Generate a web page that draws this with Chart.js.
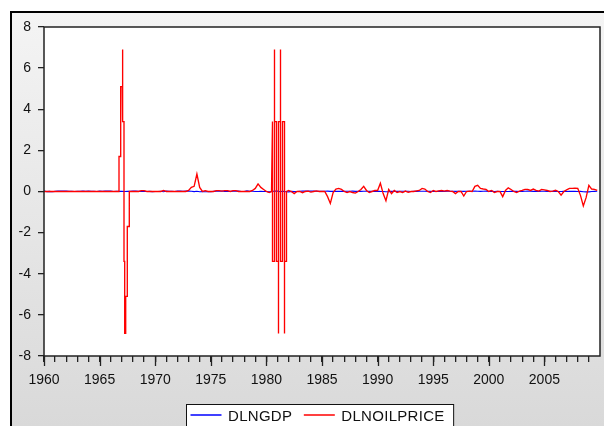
<!DOCTYPE html>
<html>
<head>
<meta charset="utf-8">
<style>
  html, body { margin: 0; padding: 0; background: #fff; }
  canvas { display: block; }
</style>
</head>
<body>
<canvas id="myChart" width="604" height="426"></canvas>
<script src="https://cdn.jsdelivr.net/npm/chart.js@4.4.1/dist/chart.umd.min.js"></script>
<script>
// quarterly observations 1960Q1 - 2009Q4
const quarters = [];
for (let y = 1960; y < 2010; y++) {
    for (let q = 0; q < 4; q++) quarters.push(y + q / 4);
}

// DLNOILPRICE, one row per year (Q1..Q4)
const oilValues = [
    0, 0, 0, 0,            // 1960
    0, 0, 0, 0,
    0, 0, 0, 0,
    0, 0, 0, 0,
    0, 0, 0, 0,
    0, 0, 0, 0,            // 1965
    0, 0, 0, 0,
    0, 0, 0, 0,
    0, 0, 0, 0.04,
    0.04, 0, 0, 0,
    0, 0, 0, 0.05,         // 1970
    0, 0, 0, 0,
    0, 0, 0, 0,
    0.05, 0.2, 0.25, 0.85,
    0.2, 0, 0.04, 0,
    0, 0, 0.04, 0.04,      // 1975
    0.02, 0.04, 0.04, 0,
    0.04, 0.04, 0, 0,
    0, 0, 0, 0.05,
    0.15, 0.37, 0.2, 0.1,
    0, -0.05, 0, 0,        // 1980
    0, 0, 0, 0,
    0.05, 0, -0.1, 0,
    0, -0.06, 0, 0.02,
    -0.03, 0, 0.03, 0,
    0, 0, -0.25, -0.58,    // 1985
    -0.05, 0.12, 0.15, 0.1,
    0, -0.05, 0, -0.05,
    -0.08, 0, 0.1, 0.25,
    0.05, -0.05, 0, 0.05,
    0.05, 0.4, -0.1, -0.45, // 1990
    0.1, -0.1, 0.05, -0.05,
    0, -0.05, 0.02, -0.04,
    0, 0, 0.03, 0.05,
    0.15, 0.12, 0, -0.05,
    0.05, 0, 0.03, 0.05,   // 1995
    0.02, 0.05, 0.02, 0,
    -0.1, 0, 0, -0.22,
    0, 0.02, 0, 0.25,
    0.3, 0.15, 0.12, 0.1,
    0, 0.05, -0.05, 0,     // 2000
    0, -0.25, 0.05, 0.18,
    0.1, 0, -0.05, 0.02,
    0.05, 0.1, 0.1, 0.05,
    0.12, 0.05, 0.02, 0.1,
    0.08, 0.05, 0, 0.02,   // 2005
    0.06, 0, -0.18, 0,
    0.08, 0.15, 0.15, 0.16,
    0.15, -0.2, -0.7, -0.3,
    0.3, 0.12, 0.1, 0.05
];

// the two bursts move in jumps inside a quarter; repeated dates give the vertical steps
const spike1Dates = [1966.745, 1966.745, 1966.897, 1966.897, 1967.041, 1967.041, 1967.086, 1967.086, 1967.194,
    1967.194, 1967.257, 1967.257, 1967.347, 1967.347, 1967.491, 1967.491, 1967.671, 1967.671];
const spike1Values = [0, 1.7, 1.7, 5.1, 5.1, 6.9, 6.9, 3.4, 3.4,
    -3.4, -3.4, -6.9, -6.9, -5.1, -5.1, -1.7, -1.7, 0];

const spike2Dates = [1980.460, 1980.548, 1980.548, 1980.728, 1980.728, 1980.728, 1980.908, 1980.908,
    1981.088, 1981.088, 1981.088, 1981.268, 1981.268, 1981.268, 1981.448, 1981.448,
    1981.628, 1981.628, 1981.628, 1981.807, 1981.807];
const spike2Values = [0, 3.4, -3.4, -3.4, 6.9, 3.4, 3.4, -3.4,
    -3.4, -6.9, 3.4, 3.4, 6.9, -3.4, -3.4, 3.4,
    3.4, -6.9, -3.4, -3.4, 0];

// DLNGDP, one row per year
const gdpValues = [
    0.022, -0.005, 0.005, -0.013,
    0.007, 0.019, 0.020, 0.020,
    0.018, 0.010, 0.009, 0.003,
    0.013, 0.012, 0.019, 0.007,
    0.023, 0.011, 0.014, 0.003,
    0.024, 0.014, 0.021, 0.024,
    0.023, 0.003, 0.009, 0.008,
    0.008, 0.001, 0.008, 0.007,
    0.020, 0.017, 0.007, 0.004,
    0.015, 0.003, 0.006, -0.005,
    -0.002, 0.002, 0.009, -0.011,
    0.027, 0.006, 0.008, 0.003,
    0.017, 0.022, 0.010, 0.017,
    0.025, 0.011, -0.005, 0.009,
    -0.009, 0.002, -0.010, -0.004,
    -0.012, 0.007, 0.017, 0.013,
    0.022, 0.007, 0.005, 0.007,
    0.012, 0.019, 0.018, 0.000,
    0.003, 0.039, 0.010, 0.013,
    0.002, 0.001, 0.007, 0.003,
    0.003, -0.020, -0.001, 0.018,
    0.020, -0.008, 0.012, -0.011,
    -0.016, 0.005, -0.004, 0.000,
    0.013, 0.022, 0.020, 0.021,
    0.019, 0.017, 0.009, 0.008,
    0.010, 0.009, 0.016, 0.007,
    0.010, 0.004, 0.010, 0.005,
    0.007, 0.011, 0.009, 0.017,
    0.005, 0.013, 0.005, 0.013,
    0.010, 0.008, 0.008, 0.002,
    0.011, 0.004, 0.000, -0.009,
    -0.005, 0.007, 0.005, 0.005,
    0.011, 0.011, 0.010, 0.011,
    0.002, 0.006, 0.005, 0.013,
    0.010, 0.013, 0.006, 0.011,
    0.003, 0.002, 0.008, 0.007,
    0.007, 0.017, 0.009, 0.011,
    0.008, 0.015, 0.012, 0.008,
    0.010, 0.009, 0.012, 0.016,
    0.010, 0.008, 0.012, 0.017,
    0.003, 0.016, 0.001, 0.006,
    -0.003, 0.003, -0.003, 0.003,
    0.009, 0.005, 0.006, 0.000,
    0.005, 0.009, 0.017, 0.009,
    0.007, 0.008, 0.008, 0.009,
    0.010, 0.005, 0.008, 0.005,
    0.012, 0.003, 0.000, 0.008,
    0.000, 0.008, 0.007, 0.004,
    -0.002, 0.004, -0.010, -0.017,
    -0.017, -0.002, 0.004, 0.012
];

const yTicks = [-8, -6, -4, -2, 0, 2, 4, 6, 8];
const yearLabels = [1960, 1965, 1970, 1975, 1980, 1985, 1990, 1995, 2000, 2005];

function inSpike(x) {
    return (x >= spike1Dates[0] && x <= spike1Dates[spike1Dates.length - 1]) ||
           (x >= spike2Dates[0] && x <= spike2Dates[spike2Dates.length - 1]);
}

const oilPoints = quarters
    .map((x, i) => ({ x: x, y: oilValues[i] }))
    .filter(p => !inSpike(p.x))
    .concat(spike1Dates.map((x, i) => ({ x: x, y: spike1Values[i] })))
    .concat(spike2Dates.map((x, i) => ({ x: x, y: spike2Values[i] })))
    .sort((a, b) => a.x - b.x);

const gdpPoints = quarters.map((x, i) => ({ x: x, y: gdpValues[i] }));

const FONT = '"Liberation Sans", Arial, sans-serif';

const framePlugin = {
    id: 'frame',
    beforeDraw(chart) {
        const ctx = chart.ctx;
        const a = chart.chartArea;
        ctx.save();
        ctx.fillStyle = '#fff';
        ctx.fillRect(0, 0, chart.width, chart.height);
        const g = ctx.createLinearGradient(0, 12, 0, chart.height);
        g.addColorStop(0, '#f4f4f4');
        g.addColorStop(1, '#d9d9d9');
        ctx.fillStyle = g;
        ctx.fillRect(11, 12, chart.width - 11, chart.height - 12);
        ctx.strokeStyle = '#000';
        ctx.lineWidth = 2;
        ctx.beginPath();
        ctx.moveTo(11, chart.height);
        ctx.lineTo(11, 12);
        ctx.lineTo(chart.width, 12);
        ctx.stroke();
        ctx.fillStyle = '#fff';
        ctx.fillRect(a.left, a.top, a.right - a.left, a.bottom - a.top);
        ctx.restore();
    },
    afterDraw(chart) {
        const ctx = chart.ctx;
        const a = chart.chartArea;
        const xs = chart.scales.x;
        ctx.save();
        ctx.strokeStyle = '#222';
        ctx.lineWidth = 1.5;
        ctx.strokeRect(a.left, a.top, a.right - a.left, a.bottom - a.top);

        // longer marks at the labelled years
        ctx.lineWidth = 1.3;
        ctx.beginPath();
        yearLabels.forEach(v => {
            const px = Math.round(xs.getPixelForValue(v)) + 0.5;
            ctx.moveTo(px, a.bottom);
            ctx.lineTo(px, a.bottom + 10);
        });
        ctx.stroke();

        // legend box
        const sets = chart.data.datasets;
        ctx.font = '15px ' + FONT;
        ctx.letterSpacing = '0.3px';
        ctx.textBaseline = 'middle';
        const lineLen = 31, y = 415;
        let total = 4;
        sets.forEach((d, i) => {
            total += lineLen + 6.5 + ctx.measureText(d.label).width + (i < sets.length - 1 ? 11.5 : 9);
        });
        const left = 186.5;
        ctx.fillStyle = '#fff';
        ctx.fillRect(left, 404.5, total, 30);
        ctx.strokeStyle = '#111';
        ctx.lineWidth = 1;
        ctx.strokeRect(left, 404.5, total, 30);
        let x = left + 4;
        sets.forEach(d => {
            ctx.strokeStyle = d.borderColor;
            ctx.lineWidth = 1.5;
            ctx.beginPath();
            ctx.moveTo(x, y);
            ctx.lineTo(x + lineLen, y);
            ctx.stroke();
            x += lineLen + 6.5;
            ctx.fillStyle = '#111';
            ctx.fillText(d.label, x, y + 1.5);
            x += ctx.measureText(d.label).width + 11.5;
        });
        ctx.restore();
    }
};

const ctx = document.getElementById('myChart').getContext('2d');
const myChart = new Chart(ctx, {
    type: 'line',
    data: {
        datasets: [{
            label: 'DLNGDP',
            data: gdpPoints,
            borderColor: '#0000ff',
            borderWidth: 1.1,
            pointRadius: 0,
            tension: 0,
            order: 1
        }, {
            label: 'DLNOILPRICE',
            data: oilPoints,
            borderColor: '#ff0000',
            borderWidth: 1.35,
            pointRadius: 0,
            tension: 0,
            order: 0
        }]
    },
    options: {
        responsive: false,
        animation: false,
        devicePixelRatio: 1,
        layout: { padding: { top: 27, right: 4, left: 0, bottom: 0 } },
        plugins: {
            legend: { display: false },
            tooltip: { enabled: false }
        },
        scales: {
            x: {
                type: 'linear',
                min: 1960,
                max: 2010,
                afterFit: scale => { scale.height = 70; },
                afterBuildTicks: scale => {
                    scale.ticks = scale.ticks.filter(t => t.value < 2010);
                },
                border: { display: false },
                grid: {
                    drawOnChartArea: false,
                    drawTicks: true,
                    tickLength: 6,
                    color: '#222',
                    lineWidth: 1.3
                },
                ticks: {
                    stepSize: 1,
                    autoSkip: false,
                    maxRotation: 0,
                    padding: 10,
                    color: '#111',
                    font: { family: FONT, size: 14 },
                    callback: v => yearLabels.includes(v) ? String(v) : ''
                }
            },
            y: {
                min: yTicks[0],
                max: yTicks[yTicks.length - 1],
                afterFit: scale => { scale.width = 44; },
                border: { display: false },
                grid: {
                    drawOnChartArea: false,
                    drawTicks: true,
                    tickLength: 6,
                    color: '#222',
                    lineWidth: 1.3
                },
                ticks: {
                    stepSize: 2,
                    padding: 7,
                    color: '#111',
                    font: { family: FONT, size: 14 }
                }
            }
        }
    },
    plugins: [framePlugin]
});
</script>
</body>
</html>
